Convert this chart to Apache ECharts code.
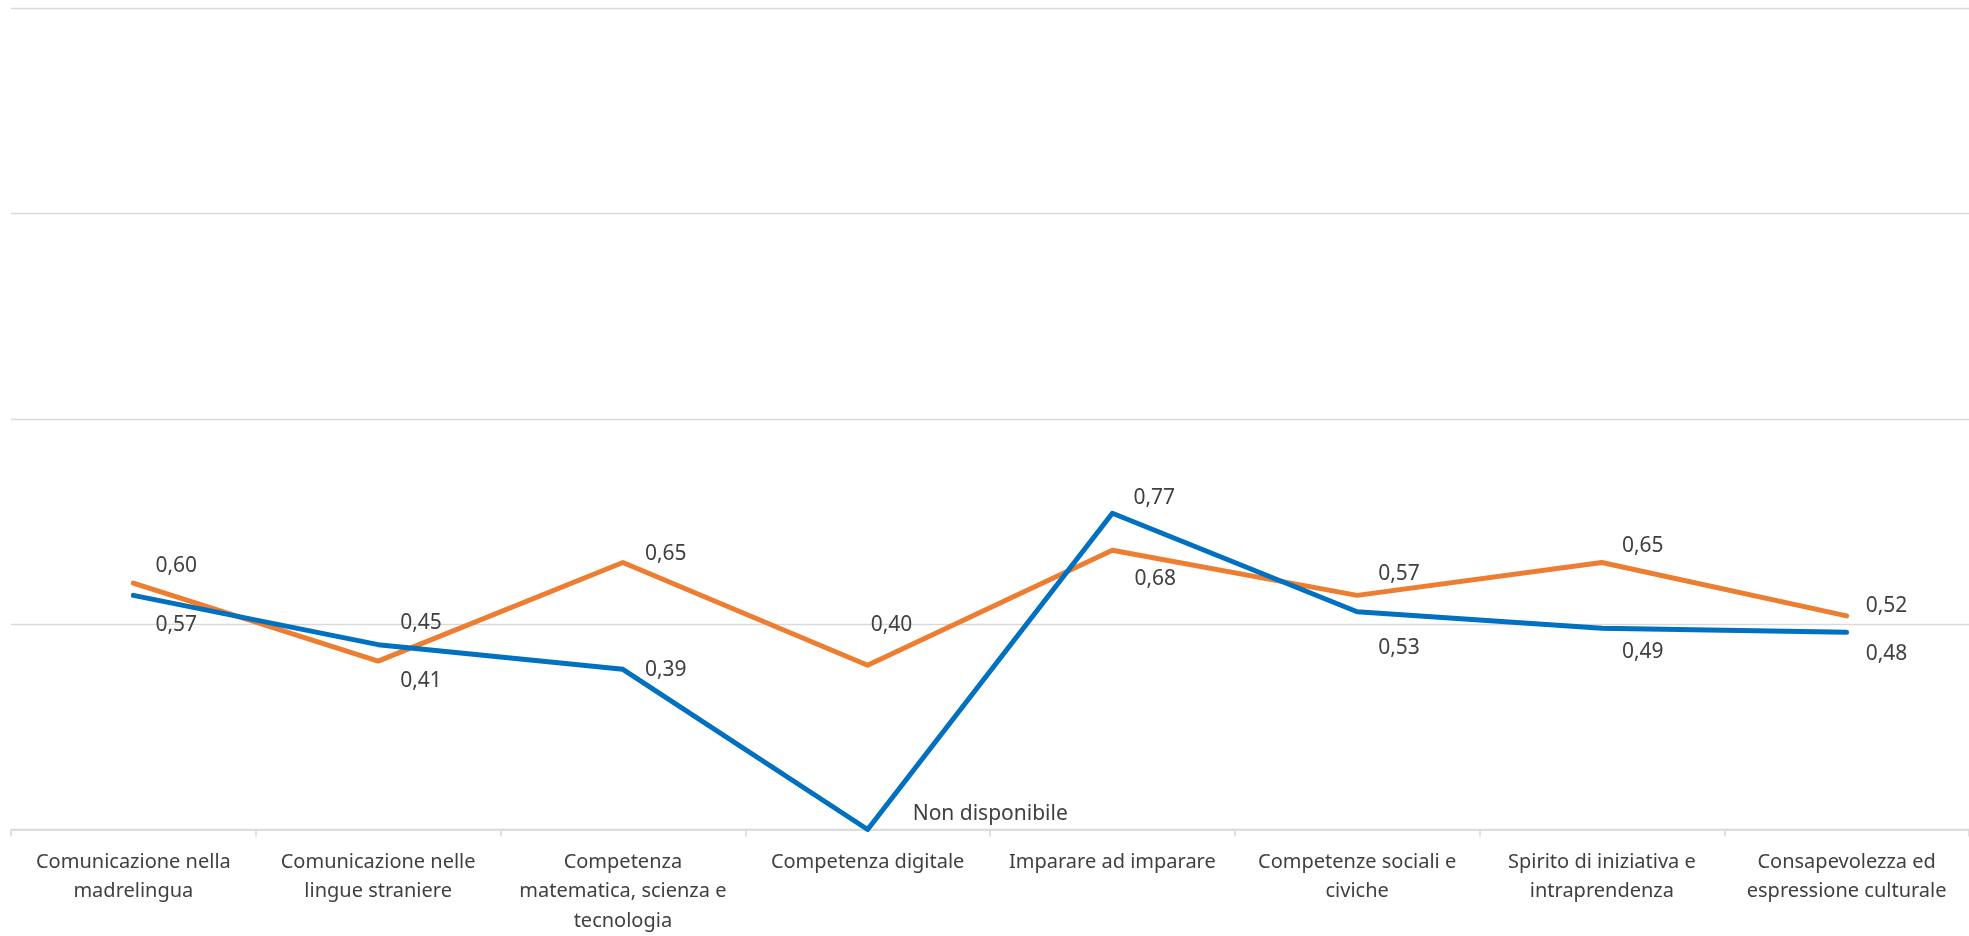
<!DOCTYPE html>
<html>
<head>
<meta charset="utf-8">
<script src="https://cdn.jsdelivr.net/npm/echarts@6/dist/echarts.min.js"></script>
<style>
html,body{margin:0;padding:0;background:#fff;}
#chart{width:1969px;height:936px;}
</style>
</head>
<body>
<div id="chart"></div>
<script>
const categories = [
  'Comunicazione nella\nmadrelingua',
  'Comunicazione nelle\nlingue straniere',
  'Competenza\nmatematica, scienza e\ntecnologia',
  'Competenza digitale',
  'Imparare ad imparare',
  'Competenze sociali e\nciviche',
  'Spirito di iniziativa e\nintraprendenza',
  'Consapevolezza ed\nespressione culturale'
];
const orangeValues = [0.60, 0.41, 0.65, 0.40, 0.68, 0.57, 0.65, 0.52];
const blueValues = [0.57, 0.45, 0.39, 0, 0.77, 0.53, 0.49, 0.48];
const notAvailableText = 'Non disponibile';

// label placement (styling only)
const orangeLabelOffsets = [[22,-17],[22,20],[22,-8],[3,-40],[22,29],[21,-21],[20,-16],[19,-10]];
const blueLabelOffsets = [[22,30],[22,-22],[22,1],[45,-15],[21,-15],[21,36],[20,24],[19,22]];

const FONT = '"Noto Sans", sans-serif';
const TEXT = '#404040';

function fmt(v) {
  return v === 0 ? notAvailableText : v.toFixed(2).replace('.', ',');
}
function build(values, offsets) {
  return values.map((v, i) => ({ value: v, label: { offset: offsets[i] } }));
}
function lineSeries(name, values, offsets, color, z) {
  return {
    name: name,
    type: 'line',
    z: z,
    data: build(values, offsets),
    symbol: 'circle',
    symbolSize: 0.1,
    itemStyle: { color: color },
    lineStyle: { color: color, width: 5, cap: 'round', join: 'round' },
    emphasis: { disabled: true },
    label: {
      show: true,
      position: 'right',
      distance: 0,
      color: TEXT,
      fontFamily: FONT,
      fontSize: 21,
      formatter: p => fmt(p.value)
    }
  };
}

const chart = echarts.init(document.getElementById('chart'), null, { renderer: 'canvas' });
chart.setOption({
  animation: false,
  backgroundColor: '#ffffff',
  grid: { left: 11, top: 8, width: 1964, bottom: 101, containLabel: false },
  xAxis: {
    type: 'category',
    data: categories,
    boundaryGap: true,
    axisLine: { lineStyle: { color: '#D9D9D9', width: 1.5 } },
    axisTick: { show: true, length: 7, lineStyle: { color: '#D9D9D9', width: 1.5 } },
    axisLabel: {
      interval: 0,
      margin: 18,
      color: TEXT,
      fontFamily: FONT,
      fontSize: 20,
      lineHeight: 29.5,
      align: 'center'
    },
    splitLine: { show: false }
  },
  yAxis: {
    type: 'value',
    min: 0,
    max: 2,
    interval: 0.5,
    axisLabel: { show: false },
    axisLine: { show: false },
    axisTick: { show: false },
    splitLine: { lineStyle: { color: '#D9D9D9', width: 1.3 } }
  },
  series: [
    lineSeries('Serie 2', orangeValues, orangeLabelOffsets, '#ED7D31', 2),
    lineSeries('Serie 1', blueValues, blueLabelOffsets, '#0070C0', 3)
  ]
});
</script>
</body>
</html>
